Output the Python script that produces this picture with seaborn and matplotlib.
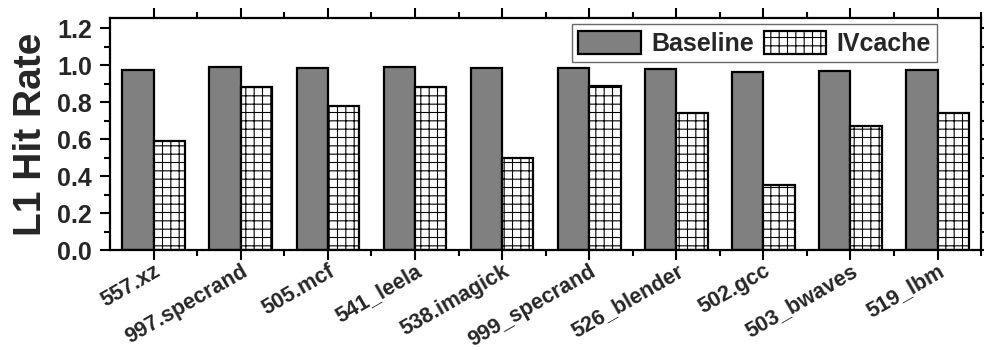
import numpy as np
import pandas as pd
import matplotlib
matplotlib.use("Agg")
import matplotlib.pyplot as plt
import matplotlib.transforms as mtransforms
import seaborn as sns
from matplotlib.patches import Patch
from matplotlib.ticker import MultipleLocator, FormatStrFormatter

sns.set_theme(style="ticks")
plt.rcParams['font.family'] = ['Liberation Sans', 'DejaVu Sans']
plt.rcParams['font.weight'] = 'bold'
plt.rcParams['hatch.linewidth'] = 0.8

# data
benchmarks = ['557.xz', '997.specrand', '505.mcf', '541_leela', '538.imagick',
              '999_specrand', '526_blender', '502.gcc', '503_bwaves', '519_lbm']
baseline = [0.975, 0.99, 0.985, 0.99, 0.985, 0.985, 0.98, 0.965, 0.97, 0.975]
ivcache = [0.59, 0.88, 0.78, 0.88, 0.50, 0.89, 0.74, 0.35, 0.67, 0.74]
series = ['Baseline', 'IVcache']

df = pd.DataFrame({
    'bench': benchmarks * 2,
    'rate': baseline + ivcache,
    'config': ['Baseline'] * len(benchmarks) + ['IVcache'] * len(benchmarks),
})

fig, ax = plt.subplots(figsize=(9.84, 3.5), dpi=100)
sns.barplot(data=df, x='bench', y='rate', hue='config', hue_order=series,
            palette=['#808080', 'white'], width=0.72, edgecolor='black',
            linewidth=1.6, saturation=1, ax=ax, legend=False)

for bar in ax.containers[1]:
    bar.set_hatch('++')

ax.set_xlim(-0.5, len(benchmarks) - 0.5)
ax.set_ylim(0, 1.254)
ax.yaxis.set_major_locator(MultipleLocator(0.2))
ax.yaxis.set_minor_locator(MultipleLocator(0.1))
ax.yaxis.set_major_formatter(FormatStrFormatter('%.1f'))
ax.set_xticks(np.arange(len(benchmarks)))
ax.set_xticks(np.arange(len(benchmarks)) + 0.5, minor=True)
ax.set_xticklabels(benchmarks, rotation=30, ha='right', rotation_mode='anchor',
                   fontsize=15.5, fontweight='bold')
# labels end a little to the right of their tick, as in the reference
shift = mtransforms.ScaledTranslation(8 / 72, 0, fig.dpi_scale_trans)
for t in ax.get_xticklabels():
    t.set_transform(t.get_transform() + shift)
for t in ax.get_yticklabels():
    t.set_fontsize(18)
    t.set_fontweight('bold')

ax.tick_params(which='major', direction='out', length=7, width=1.5,
               top=True, right=True, color='black')
ax.tick_params(which='minor', direction='out', length=4, width=1.5,
               top=True, right=True, color='black')
ax.tick_params(axis='x', which='major', pad=0.5)
ax.tick_params(axis='y', which='major', pad=6)
for s in ax.spines.values():
    s.set_linewidth(1.6)
    s.set_color('black')

ax.set_xlabel('')
ax.set_ylabel('L1 Hit Rate', fontsize=28, fontweight='bold', labelpad=6)

handles = [Patch(facecolor='#808080', edgecolor='black', linewidth=1.6),
           Patch(facecolor='white', edgecolor='black', linewidth=1.6, hatch='++')]
leg = ax.legend(handles, series, ncol=2, loc='upper right',
                bbox_to_anchor=(0.955, 0.995), fontsize=18, frameon=True,
                fancybox=False, handlelength=2.5, handleheight=1.05,
                columnspacing=0.4, handletextpad=0.4, borderpad=0.25,
                borderaxespad=0.2)
leg.get_frame().set_edgecolor('#444444')
leg.get_frame().set_linewidth(1)
for t in leg.get_texts():
    t.set_fontweight('bold')

fig.subplots_adjust(left=0.112, right=0.997, top=0.948, bottom=0.285)
fig.savefig('out.png', dpi=100)
